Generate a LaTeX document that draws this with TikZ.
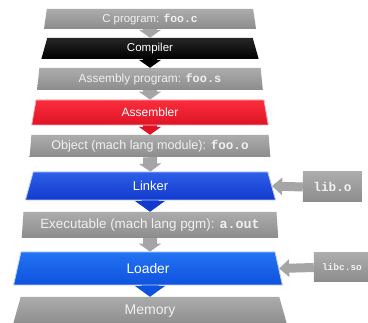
\documentclass[tikz,border=0pt]{standalone}
\usepackage{fontspec}
\setmainfont{Liberation Sans}
\setmonofont{Liberation Mono}
\usetikzlibrary{shapes.geometric,arrows.meta}
\definecolor{gtop}{RGB}{172,172,172}
\definecolor{gbot}{RGB}{140,140,140}
\definecolor{garrow}{RGB}{165,165,165}
\definecolor{rtop}{RGB}{250,45,60}
\definecolor{rbot}{RGB}{222,20,38}
\definecolor{ltop}{RGB}{45,95,232}
\definecolor{lbot}{RGB}{18,58,205}
\definecolor{otop}{RGB}{35,115,242}
\definecolor{obot}{RGB}{15,82,222}
\definecolor{txtw}{RGB}{240,240,240}
\newcommand{\fsz}[1]{\fontsize{#1}{#1}\selectfont}
\newcommand{\mono}[1]{{\ttfamily\bfseries #1}}
\tikzset{
  x=1pt, y=-1pt,
  stage/.style={trapezium, trapezium angle=83, trapezium stretches=true,
    inner sep=0pt, text=txtw},
  graystage/.style={stage, top color=gtop, bottom color=gbot},
  blackstage/.style={stage, top color=black!85, bottom color=black, text=white},
  redstage/.style={stage, top color=rtop, bottom color=rbot, text=white,
    draw=rtop!40!white, line width=0.8pt},
  linkstage/.style={stage, top color=ltop, bottom color=lbot, text=white,
    draw=ltop!35!white, line width=0.8pt},
  loadstage/.style={stage, top color=otop, bottom color=obot, text=white,
    draw=otop!35!white, line width=0.8pt},
  libbox/.style={rectangle, inner sep=0pt, top color=gtop, bottom color=gbot, text=txtw},
  downarrow/.style={line width=14pt, -{Triangle[length=8pt,width=22pt]}},
  bigdownarrow/.style={line width=17pt, -{Triangle[length=11pt,width=30pt]}},
  sidearrow/.style={line width=9pt, draw=garrow, -{Triangle[length=10pt,width=17pt]}},
}
\begin{document}
\begin{tikzpicture}
\useasboundingbox (0,0) rectangle (368,323);
\fill[white] (0,0) rectangle (368,323);

\node[graystage, minimum width=214pt, minimum height=20pt, font=\fsz{11.4}] (cprog) at (150,19) {C program: \mono{foo.c}};
\node[blackstage, minimum width=218pt, minimum height=21pt, font=\fsz{11.5}] (comp) at (150,48.5) {Compiler};
\node[graystage, minimum width=226pt, minimum height=22pt, font=\fsz{11.9}] (asmprog) at (150,79) {Assembly program: \mono{foo.s}};
\node[redstage, minimum width=238pt, minimum height=25pt, font=\fsz{12}] (asm) at (150,112.5) {Assembler};
\node[graystage, minimum width=241pt, minimum height=22pt, font=\fsz{12.6}] (obj) at (150,146) {Object (mach lang module): \mono{foo.o}};
\node[linkstage, minimum width=251pt, minimum height=28pt, font=\fsz{12.9}] (link) at (150.5,186) {Linker};
\node[graystage, minimum width=257pt, minimum height=26pt, font=\fsz{13.4}] (exe) at (150,225) {Executable (mach lang pgm): \mono{a.out}};
\node[loadstage, minimum width=270pt, minimum height=33pt, font=\fsz{13.8}] (load) at (148,268.5) {Loader};
\node[graystage, minimum width=275pt, minimum height=28pt, font=\fsz{14}] (mem) at (150,311) {Memory};

\node[libbox, minimum width=59pt, minimum height=30pt, font=\fsz{12.7}] (libo) at (332.5,187) {\mono{lib.o}};
\node[libbox, minimum width=56pt, minimum height=29pt, font=\fsz{9.5}] (libc) at (342,267.5) {\mono{libc.so}};

\draw[downarrow, draw=garrow] (cprog.south) -- (comp.north);
\draw[downarrow, draw=black] (comp.south) -- (asmprog.north);
\draw[downarrow, draw=garrow] (asmprog.south) -- (asm.north);
\draw[downarrow, draw=rbot] (asm.south) -- (obj.north);
\draw[downarrow, draw=garrow] (obj.south) -- (link.north);
\draw[bigdownarrow, draw=lbot] ([xshift=-0.5pt]link.south) -- (exe.north);
\draw[downarrow, draw=garrow] (exe.south) -- ([xshift=2pt]load.north);
\draw[bigdownarrow, draw=obot] ([xshift=2pt]load.south) -- (mem.north);

\draw[sidearrow] (libo.west) -- (link.east);
\draw[sidearrow] (libc.west) -- (load.east);
\end{tikzpicture}
\end{document}
